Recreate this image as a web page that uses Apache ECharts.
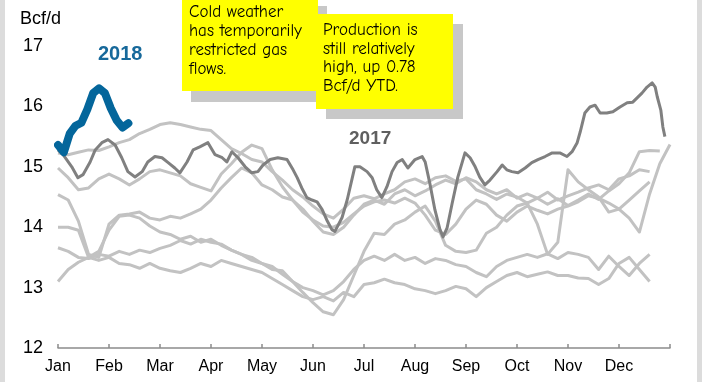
<!DOCTYPE html>
<html>
<head>
<meta charset="utf-8">
<script src="https://cdn.jsdelivr.net/npm/echarts@6/dist/echarts.min.js"></script>
<style>
  html, body { margin: 0; padding: 0; background: #ffffff; }
  #chart { width: 702px; height: 382px; }
</style>
</head>
<body>
<div id="chart"></div>
<script>
// Month tick labels along the bottom axis
const months = ['Jan', 'Feb', 'Mar', 'Apr', 'May', 'Jun', 'Jul', 'Aug', 'Sep', 'Oct', 'Nov', 'Dec'];
const yTicks = [12, 13, 14, 15, 16, 17];

// Spacing (in months) between consecutive readings of each series
const histStep = 0.2;
const step2018 = 0.115;

// Earlier years (light grey), one reading every histStep months from 1 Jan
const year1 = [15.23,15.20,15.24,15.28,15.27,15.33,15.40,15.45,15.55,15.62,15.70,15.73,15.70,15.66,15.62,15.60,15.45,15.30,15.22,15.12,
  15.08,14.92,14.78,14.62,14.50,14.35,14.22,14.15,14.30,14.48,14.52,14.47,14.55,14.62,14.75,14.80,14.72,14.82,14.85,14.76,
  14.80,14.62,14.55,14.46,14.55,14.50,14.40,14.48,14.38,14.47,14.36,14.45,14.55,14.46,14.60,14.72,14.90,15.25,15.27,15.26];
const year2 = [14.98,14.82,14.62,14.65,14.80,14.88,14.80,14.70,14.80,14.92,14.95,14.90,14.85,14.72,14.66,14.60,14.88,15.05,15.24,15.36,
  15.30,14.95,14.67,14.45,14.25,14.12,14.02,14.00,14.08,14.22,14.35,14.42,14.45,14.40,14.48,14.40,14.20,13.95,13.88,14.05,
  14.30,14.45,14.38,14.20,14.10,14.25,14.35,14.28,14.22,14.30,14.35,14.42,14.52,14.48,14.40,14.30,14.15,13.92,14.55,15.05,15.37];
const year3 = [14.54,14.45,14.10,13.55,13.50,14.05,14.20,14.22,14.25,14.15,14.12,14.18,14.15,14.22,14.30,14.45,14.65,14.82,14.98,14.90,
  14.70,14.62,14.50,14.45,14.30,14.10,13.92,13.88,14.00,14.20,14.38,14.45,14.38,14.55,14.62,14.52,14.60,14.70,14.78,14.72,
  14.82,14.75,14.62,14.55,14.62,14.48,14.55,14.48,14.58,14.45,14.52,14.58,14.65,14.70,14.62,14.80,14.85,14.95,14.92];
const year4 = [14.00,14.00,13.95,13.50,13.60,13.95,14.18,14.20,14.15,14.02,13.92,13.88,13.80,13.85,13.75,13.80,13.70,13.62,13.55,13.45,
  13.40,13.30,13.28,13.10,12.92,12.75,12.60,12.55,12.80,13.20,13.60,13.90,13.88,14.05,14.12,14.25,14.35,14.10,13.70,13.60,
  13.58,13.62,13.90,14.00,14.20,14.35,14.40,14.05,13.55,13.75,14.95,14.75,14.62,14.50,14.25,14.30,14.45,14.60,14.75];
const year5 = [13.66,13.60,13.50,13.48,13.55,13.52,13.60,13.55,13.62,13.58,13.65,13.70,13.78,13.72,13.80,13.75,13.72,13.62,13.55,13.50,
  13.40,13.35,13.22,13.10,13.00,12.95,12.88,12.95,13.10,13.30,13.45,13.52,13.45,13.55,13.45,13.50,13.40,13.48,13.45,13.38,
  13.35,13.25,13.18,13.35,13.45,13.50,13.55,13.50,13.56,13.48,13.58,13.55,13.50,13.30,13.52,13.35,13.20,13.40,13.55];
const year6 = [13.10,13.30,13.42,13.50,13.45,13.50,13.40,13.38,13.32,13.40,13.32,13.28,13.25,13.32,13.40,13.35,13.45,13.40,13.35,13.30,
  13.25,13.15,13.05,12.95,12.85,12.80,12.85,12.78,12.92,12.85,13.05,13.08,13.14,13.08,13.05,12.98,12.95,12.90,12.95,13.02,
  12.98,12.85,13.00,13.10,13.20,13.25,13.18,13.22,13.26,13.20,13.20,13.16,13.15,13.05,13.15,13.40,13.50,13.30,13.10];

// 2017 daily flow, [month, Bcf/d]
const flow2017 = [[0,15.28],[0.10,15.20],[0.27,15.00],[0.39,14.82],[0.49,14.87],[0.63,15.08],[0.73,15.28],[0.86,15.40],[0.98,15.45],
  [1.12,15.36],[1.25,15.15],[1.37,14.92],[1.51,14.83],[1.65,14.92],[1.76,15.08],[1.90,15.17],[2.04,15.15],[2.16,15.07],[2.29,14.98],
  [2.39,14.90],[2.53,15.08],[2.65,15.28],[2.78,15.33],[2.94,15.40],[3.08,15.20],[3.22,15.15],[3.31,15.08],[3.41,15.25],[3.53,15.15],
  [3.67,15.00],[3.80,14.90],[3.92,14.92],[4.02,15.03],[4.16,15.12],[4.31,15.15],[4.49,15.12],[4.61,14.95],[4.69,14.82],[4.78,14.65],
  [4.88,14.49],[4.98,14.45],[5.08,14.42],[5.18,14.29],[5.27,14.12],[5.37,13.96],[5.43,13.93],[5.57,14.16],[5.67,14.45],[5.76,14.78],
  [5.82,15.00],[5.92,15.00],[6.06,14.92],[6.16,14.82],[6.25,14.62],[6.35,14.49],[6.45,14.67],[6.55,14.92],[6.65,15.07],[6.75,15.12],
  [6.86,14.98],[7.00,15.12],[7.14,15.17],[7.20,15.08],[7.29,14.73],[7.39,14.29],[7.49,13.96],[7.55,13.84],[7.63,13.99],[7.73,14.40],
  [7.84,14.83],[7.98,15.23],[8.08,15.15],[8.18,15.00],[8.27,14.83],[8.37,14.70],[8.47,14.78],[8.61,14.92],[8.71,15.03],[8.80,14.95],
  [8.90,14.92],[9.02,14.90],[9.16,14.98],[9.29,15.07],[9.41,15.12],[9.55,15.17],[9.69,15.23],[9.84,15.23],[9.98,15.17],[10.08,15.25],
  [10.18,15.40],[10.24,15.58],[10.33,15.89],[10.43,15.99],[10.53,16.02],[10.63,15.89],[10.76,15.89],[10.88,15.91],[11.02,15.99],
  [11.16,16.06],[11.27,16.07],[11.45,16.22],[11.55,16.32],[11.65,16.39],[11.71,16.32],[11.75,16.16],[11.82,15.94],[11.86,15.66],[11.90,15.50]];

// 2018 year to date
const flow2018 = [15.36,15.24,15.55,15.68,15.73,15.95,16.22,16.30,16.22,15.97,15.77,15.65,15.72];

const histYears = [year1, year2, year3, year4, year5, year6];

function toPairs(values, stepMonths) {
  return values.map((v, i) => [i * stepMonths, v]);
}

const chart = echarts.init(document.getElementById('chart'), null, { renderer: 'canvas' });

const series = histYears.map(vals => ({
  type: 'line',
  data: toPairs(vals, histStep),
  showSymbol: false,
  lineStyle: { color: '#c2c2c2', width: 3, join: 'round' },
  silent: true,
  z: 2
}));

series.push({
  type: 'line',
  data: flow2017,
  showSymbol: false,
  lineStyle: { color: '#808080', width: 3, join: 'round' },
  silent: true,
  z: 3
});

series.push({
  type: 'line',
  data: toPairs(flow2018, step2018),
  showSymbol: false,
  lineStyle: { color: '#04669b', width: 8, join: 'round', cap: 'round' },
  silent: true,
  z: 4
});

const noteFont = '"Comic Sans MS", "Comic Neue", "DejaVu Sans", sans-serif';

chart.setOption({
  animation: false,
  backgroundColor: '#ffffff',
  grid: { left: 58, right: 32, top: 46, bottom: 34, containLabel: false },
  xAxis: {
    type: 'value',
    min: 0,
    max: 12,
    interval: 1,
    axisLine: { show: true, lineStyle: { color: '#8c8c8c', width: 1.5 } },
    axisTick: { show: true, inside: true, length: 4, lineStyle: { color: '#8c8c8c', width: 1.5 } },
    axisLabel: {
      margin: 11,
      fontSize: 16,
      fontFamily: 'Liberation Sans, Arial, sans-serif',
      color: '#000000',
      formatter: v => months[v] || ''
    },
    splitLine: { show: false }
  },
  yAxis: {
    type: 'value',
    min: yTicks[0],
    max: yTicks[yTicks.length - 1],
    interval: 1,
    axisLine: { show: false },
    axisTick: { show: false },
    axisLabel: {
      margin: 15,
      fontSize: 18,
      fontFamily: 'Liberation Sans, Arial, sans-serif',
      color: '#000000'
    },
    splitLine: { show: false }
  },
  series: series,
  graphic: [
    // side frame strips
    { type: 'rect', shape: { x: 0, y: 0, width: 5, height: 382 }, style: { fill: '#dcdcdc' }, silent: true },
    { type: 'rect', shape: { x: 697, y: 0, width: 5, height: 382 }, style: { fill: '#dcdcdc' }, silent: true },
    // unit label
    { type: 'text', left: 20, top: 10, style: { text: 'Bcf/d', fontSize: 18, fontFamily: 'Liberation Sans, Arial, sans-serif', fill: '#000' } },
    // series labels
    { type: 'text', left: 98, top: 44, style: { text: '2018', fontSize: 20, fontWeight: 'bold', fontFamily: 'Liberation Sans, Arial, sans-serif', fill: '#17699b' } },
    { type: 'text', left: 349, top: 129, style: { text: '2017', fontSize: 19, fontWeight: 'bold', fontFamily: 'Liberation Sans, Arial, sans-serif', fill: '#5f5f5f' } },
    // first note with its shadow
    { type: 'rect', shape: { x: 191, y: 6, width: 136, height: 96 }, style: { fill: '#c8c8c8' }, z: 10 },
    { type: 'rect', shape: { x: 182, y: 0, width: 136, height: 91 }, style: { fill: '#ffff00' }, z: 11 },
    { type: 'text', left: 189, top: 3, z: 12, style: { text: 'Cold weather\nhas temporarily\nrestricted gas\nflows.', fontSize: 17, lineHeight: 19, fontFamily: noteFont, fill: '#000' } },
    // second note with its shadow
    { type: 'rect', shape: { x: 326, y: 24, width: 137, height: 95 }, style: { fill: '#c8c8c8' }, z: 10 },
    { type: 'rect', shape: { x: 316, y: 14, width: 137, height: 95 }, style: { fill: '#ffff00' }, z: 11 },
    { type: 'text', left: 323, top: 21, z: 12, style: { text: 'Production is\nstill relatively\nhigh, up 0.78\nBcf/d YTD.', fontSize: 17, lineHeight: 18.5, fontFamily: noteFont, fill: '#000' } }
  ]
});
</script>
</body>
</html>
